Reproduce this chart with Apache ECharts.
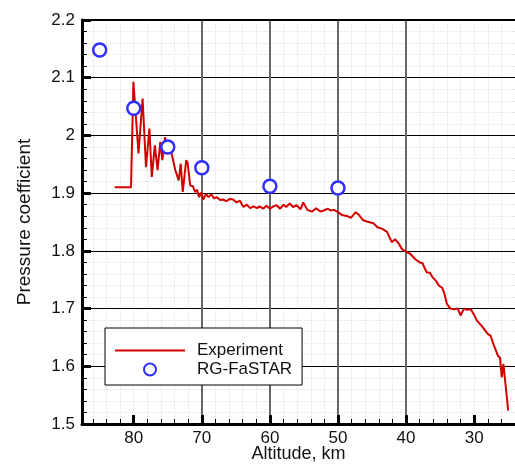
<!DOCTYPE html>
<html>
<head>
<meta charset="utf-8">
<script src="https://cdn.jsdelivr.net/npm/echarts@6/dist/echarts.min.js"></script>
<style>
  html, body { margin: 0; padding: 0; background: #ffffff; }
  #chart { width: 515px; height: 467px; }
</style>
</head>
<body>
<div id="chart"></div>
<script>
  // experiment (altitude km / Cp)
  var expAltitude = [82.8, 80.4, 80.05, 79.3, 78.7, 78.2, 77.7, 77.35, 76.9, 76.5, 76.1, 75.8, 75.4, 75.1, 74.5, 73.9, 73.4, 73.1, 72.8, 72.3, 72.1, 71.7, 71.3, 71.0, 70.7, 70.4, 70.1, 69.8, 69.4, 69.0, 68.6, 68.2, 67.8, 67.3, 66.9, 66.4, 65.9, 65.4, 64.9, 64.4, 63.9, 63.4, 62.9, 62.4, 61.9, 61.5, 61.0, 60.5, 60.0, 59.5, 59.0, 58.5, 58.0, 57.6, 57.1, 56.6, 56.1, 55.5, 55.1, 54.5, 53.8, 53.2, 52.6, 52.1, 51.5, 51.1, 50.6, 50.0, 49.4, 48.6, 48.1, 47.4, 46.9, 46.3, 45.5, 44.8, 44.2, 43.5, 42.8, 42.1, 41.6, 41.1, 40.6, 40.1, 39.4, 38.6, 38.0, 37.6, 37.0, 36.5, 36.1, 35.6, 35.2, 34.7, 34.4, 34.0, 33.5, 33.0, 32.4, 32.0, 31.5, 31.1, 30.5, 30.0, 29.6, 28.9, 28.0, 27.6, 27.0, 26.5, 26.2, 25.95, 25.7, 25.0];
  var expCp = [1.910, 1.910, 2.093, 1.969, 2.064, 1.945, 2.012, 1.928, 1.983, 1.940, 1.989, 1.957, 1.997, 1.969, 1.972, 1.940, 1.922, 1.951, 1.902, 1.957, 1.953, 1.913, 1.912, 1.902, 1.906, 1.893, 1.901, 1.889, 1.898, 1.893, 1.898, 1.891, 1.893, 1.888, 1.889, 1.886, 1.890, 1.889, 1.884, 1.887, 1.876, 1.880, 1.874, 1.877, 1.874, 1.877, 1.873, 1.878, 1.873, 1.877, 1.879, 1.873, 1.880, 1.876, 1.882, 1.876, 1.879, 1.872, 1.884, 1.871, 1.868, 1.874, 1.868, 1.870, 1.873, 1.870, 1.871, 1.867, 1.862, 1.860, 1.857, 1.867, 1.862, 1.853, 1.850, 1.848, 1.841, 1.838, 1.833, 1.815, 1.820, 1.813, 1.803, 1.799, 1.795, 1.785, 1.780, 1.779, 1.763, 1.762, 1.754, 1.748, 1.740, 1.736, 1.727, 1.708, 1.700, 1.699, 1.700, 1.688, 1.700, 1.698, 1.699, 1.689, 1.679, 1.670, 1.656, 1.653, 1.633, 1.618, 1.615, 1.581, 1.604, 1.523];
  // RG-FaSTAR
  var rgAltitude = [85, 80, 75, 70, 60, 50];
  var rgCp = [2.148, 2.047, 1.980, 1.944, 1.912, 1.909];
  // axis
  var xMin = 24, xMax = 87.6;
  var xMajorTicks = [30, 40, 50, 60, 70, 80];
  var yMin = 1.5, yMax = 2.2;

  var FONT = 'Liberation Sans';
  var myChart = echarts.init(document.getElementById('chart'));

  var expData = [], rgData = [];
  for (var i = 0; i < expAltitude.length; i++) expData.push([expAltitude[i], expCp[i]]);
  for (var j = 0; j < rgAltitude.length; j++) rgData.push([rgAltitude[j], rgCp[j]]);

  var option = {
    backgroundColor: '#ffffff',
    animation: false,
    grid: { left: 82, right: 0, top: 20, bottom: 43, containLabel: false, outerBoundsMode: 'none' },
    legend: {
      left: 105, top: 328,
      orient: 'vertical',
      itemWidth: 70, itemHeight: 12, itemGap: 0,
      padding: [13, 10, 6, 9],
      backgroundColor: '#ffffff',
      borderColor: '#000000', borderWidth: 1,
      textStyle: { fontFamily: FONT, fontSize: 17, lineHeight: 19, color: '#111', padding: [0, 0, 0, 7] },
      data: [
        { name: 'Experiment', itemStyle: { opacity: 0 } },
        { name: 'RG-FaSTAR' }
      ]
    },
    xAxis: [
      {
        // major
        type: 'value', inverse: true, min: xMin, max: xMax, position: 'bottom', z: 2,
        name: 'Altitude, km', nameLocation: 'middle', nameGap: 21, nameMoveOverlap: false,
        nameTextStyle: { fontFamily: FONT, fontSize: 18, color: '#111', verticalAlign: 'top' },
        axisLine: { show: true, onZero: false, lineStyle: { color: '#000', width: 3 } },
        axisTick: { show: true, inside: true, length: 9, customValues: xMajorTicks, lineStyle: { color: '#000', width: 3 } },
        axisLabel: { fontFamily: FONT, fontSize: 17, color: '#111', margin: 6, customValues: xMajorTicks },
        splitLine: { show: true, showMinLine: false, showMaxLine: false, lineStyle: { color: '#666', width: 2 } }
      },
      {
        // minor (2 km)
        type: 'value', inverse: true, min: xMin, max: xMax, interval: 2, position: 'bottom', z: 0,
        axisLine: { show: false },
        axisTick: { show: true, inside: true, length: 5, lineStyle: { color: '#000', width: 1 } },
        axisLabel: { show: false },
        splitLine: { show: true, lineStyle: { color: '#e2e2e2', width: 1, type: 'dotted' } }
      },
      {
        type: 'value', inverse: true, min: xMin, max: xMax, position: 'top', z: 2,
        axisLine: { show: true, onZero: false, lineStyle: { color: '#000', width: 2 } },
        axisTick: { show: false }, axisLabel: { show: false }, splitLine: { show: false }
      }
    ],
    yAxis: {
      type: 'value', min: yMin, max: yMax, interval: 0.1, z: 1,
      name: 'Pressure coefficient', nameLocation: 'middle', nameGap: 48, nameMoveOverlap: false,
      nameTextStyle: { fontFamily: FONT, fontSize: 19, color: '#111' },
      axisLine: { show: true, onZero: false, lineStyle: { color: '#000', width: 3 } },
      axisTick: { show: true, inside: true, length: 9, lineStyle: { color: '#000', width: 3 } },
      minorTick: { show: true, splitNumber: 5, length: 5, lineStyle: { color: '#000', width: 1 } },
      axisLabel: {
        fontFamily: FONT, fontSize: 17, color: '#111', margin: 7,
        formatter: function (v) { return String(+v.toFixed(1)); }
      },
      splitLine: { show: true, lineStyle: { color: '#000', width: 1.2 } },
      minorSplitLine: { show: true, lineStyle: { color: '#e2e2e2', width: 1, type: 'dotted' } }
    },
    series: [
      {
        name: 'Experiment', type: 'line', xAxisIndex: 0,
        data: expData, symbol: 'none', z: 3,
        itemStyle: { color: '#d40000' },
        lineStyle: { color: '#d40000', width: 2 }
      },
      {
        name: 'RG-FaSTAR', type: 'scatter', xAxisIndex: 0,
        data: rgData, symbol: 'circle', symbolSize: 13, z: 4,
        itemStyle: { color: '#ffffff', borderColor: '#2f2fff', borderWidth: 2.5, opacity: 1 }
      }
    ]
  };
  myChart.setOption(option);
</script>
</body>
</html>
